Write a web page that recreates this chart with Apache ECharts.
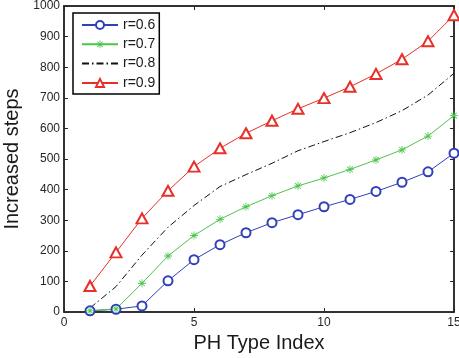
<!DOCTYPE html>
<html>
<head>
<meta charset="utf-8">
<script src="https://cdn.jsdelivr.net/npm/echarts@6/dist/echarts.min.js"></script>
<style>
html,body{margin:0;padding:0;background:#fff;}
#c{width:459px;height:358px;}
</style>
</head>
<body>
<div id="c"></div>
<script>
var xValues = [1,2,3,4,5,6,7,8,9,10,11,12,13,14,15];
var seriesNames = ['r=0.6','r=0.7','r=0.8','r=0.9'];
var r06 = [4,9,20,102,171,220,259,292,318,344,368,394,424,458,519];
var r07 = [4,10,94,183,250,303,344,380,412,438,466,497,530,575,642];
var r08 = [13,83,186,277,348,410,449,486,527,557,586,619,658,709,780];
var r09 = [85,195,306,396,475,535,584,625,664,699,736,778,826,885,970];
var xTicks = [0,5,10,15];
var yTicks = [0,100,200,300,400,500,600,700,800,900,1000];

function pairs(arr){ return xValues.map(function(x,i){ return [x, arr[i]]; }); }

var star = 'path://M-0.5,-5L0.5,-5L0.5,5L-0.5,5Z M-5,-0.5L5,-0.5L5,0.5L-5,0.5Z M-3.15,-3.85L3.85,3.15L3.15,3.85L-3.85,-3.15Z M3.85,-3.15L-3.15,3.85L-3.85,3.15L3.15,-3.85Z';

var axisColor = '#262626';
var font = 'Liberation Sans, Arial, Helvetica, sans-serif';

var chart = echarts.init(document.getElementById('c'), null, {renderer:'canvas'});
var option = {
  animation: false,
  backgroundColor: '#fff',
  grid: {left: 64, right: 5, top: 6, bottom: 46, containLabel: false, outerBoundsMode: 'none',
    show: true, borderColor: axisColor, borderWidth: 1.5, backgroundColor: 'transparent'},
  legend: {
    data: [
      {name: seriesNames[0]},
      {name: seriesNames[1]},
      {name: seriesNames[2], itemStyle: {color: 'rgba(0,0,0,0)', borderColor: 'rgba(0,0,0,0)', borderWidth: 0}},
      {name: seriesNames[3]}
    ],
    orient: 'vertical',
    left: 73, top: 13,
    padding: [5, 4, 4, 8],
    itemWidth: 36, itemHeight: 10, itemGap: 5.3,
    backgroundColor: '#fff',
    borderColor: '#000', borderWidth: 1.5, borderRadius: 0,
    textStyle: {fontFamily: font, fontSize: 14, color: '#1a1a1a', padding: [0,0,0,0]}
  },
  xAxis: [{
    type: 'value', min: 0, max: 15, interval: 5,
    position: 'bottom',
    axisLine: {show: true, onZero: false, lineStyle: {color: axisColor, width: 1.5}},
    axisTick: {show: true, inside: true, length: 4, lineStyle: {color: axisColor}},
    axisLabel: {fontFamily: font, fontSize: 12, color: axisColor, margin: 5,
      formatter: function(v){ return xTicks.indexOf(v) >= 0 ? String(v) : ''; }},
    splitLine: {show: false},
    name: 'PH Type Index', nameLocation: 'middle', nameGap: 18,
    nameTextStyle: {fontFamily: font, fontSize: 20, color: '#1a1a1a'}
  },{
    type: 'value', min: 0, max: 15, interval: 5,
    position: 'top',
    axisLine: {show: true, onZero: false, lineStyle: {color: axisColor, width: 1.5}},
    axisTick: {show: true, inside: true, length: 4, lineStyle: {color: axisColor}},
    axisLabel: {show: false},
    splitLine: {show: false}
  }],
  yAxis: [{
    type: 'value', min: 0, max: 1000, interval: 100,
    position: 'left',
    axisLine: {show: true, onZero: false, lineStyle: {color: axisColor, width: 1.5}},
    axisTick: {show: true, inside: true, length: 4, lineStyle: {color: axisColor}},
    axisLabel: {fontFamily: font, fontSize: 12, color: axisColor, margin: 4,
      formatter: function(v){ return yTicks.indexOf(v) >= 0 ? String(v) : ''; }},
    splitLine: {show: false},
    name: 'Increased steps', nameLocation: 'middle', nameGap: 37,
    nameTextStyle: {fontFamily: font, fontSize: 20, color: '#1a1a1a'}
  },{
    type: 'value', min: 0, max: 1000, interval: 100,
    position: 'right',
    axisLine: {show: true, onZero: false, lineStyle: {color: axisColor, width: 1.5}},
    axisTick: {show: true, inside: true, length: 4, lineStyle: {color: axisColor}},
    axisLabel: {show: false},
    splitLine: {show: false}
  }],
  series: [
    {name: seriesNames[0], type: 'line', xAxisIndex: 0, yAxisIndex: 0, data: pairs(r06),
     symbol: 'emptyCircle', symbolSize: 9,
     lineStyle: {color: '#2f40b8', width: 1},
     itemStyle: {color: '#2f40b8', borderWidth: 1}},
    {name: seriesNames[1], type: 'line', xAxisIndex: 0, yAxisIndex: 0, data: pairs(r07),
     symbol: star, symbolSize: 8,
     lineStyle: {color: '#4cc44c', width: 1},
     itemStyle: {color: '#4cc44c', borderWidth: 0}},
    {name: seriesNames[2], type: 'line', xAxisIndex: 0, yAxisIndex: 0, data: pairs(r08),
     symbol: 'none', showSymbol: false,
     lineStyle: {color: '#111', width: 1, type: [7,3,1.5,3]},
     itemStyle: {color: '#111'}},
    {name: seriesNames[3], type: 'line', xAxisIndex: 0, yAxisIndex: 0, data: pairs(r09),
     symbol: 'emptyTriangle', symbolSize: [11,10],
     lineStyle: {color: '#e8302a', width: 1},
     itemStyle: {color: '#e8302a', borderWidth: 1}}
  ]
};
chart.setOption(option);
</script>
</body>
</html>
